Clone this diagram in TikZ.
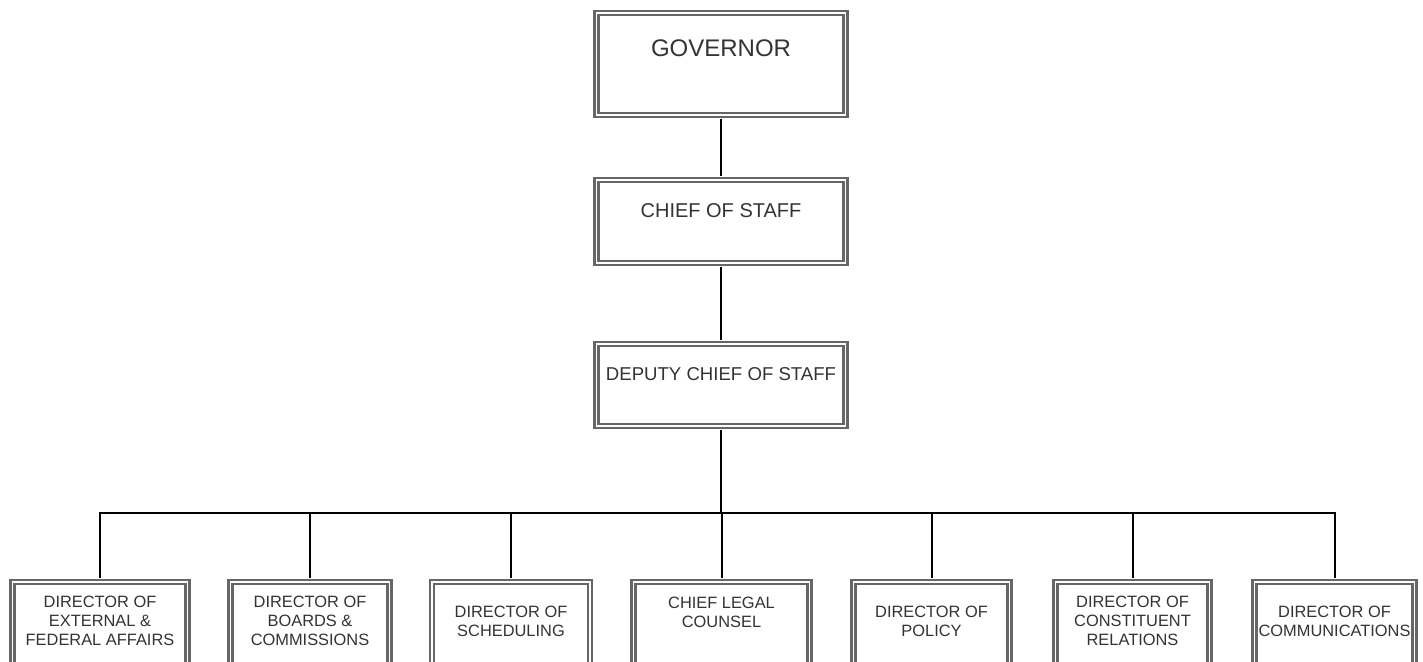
\documentclass[tikz,border=0pt]{standalone}
\usepackage{fontspec}
\setmainfont{Liberation Sans}

\begin{document}
\begin{tikzpicture}[x=0.5pt,y=-0.5pt,line width=1pt]
    \tikzstyle{box}=[rectangle,draw=black!60,double=white,double distance=0.9pt,line width=1.1pt,fill=white,inner sep=0pt]
    \tikzstyle{boxtext}=[anchor=north,inner sep=0pt,align=center,text=black!80]
    \useasboundingbox (0,0) rectangle (1423,661);
    \clip (0,0) rectangle (1423,661);

    % top column
    \foreach \name/\y/\h in {GOV/64/102, COS/221.5/83, DCOS/385/82}
        \node[box,minimum width=124.5pt,minimum height=\h*0.5pt] (\name) at (721,\y) {};

    \node[boxtext,font=\fontsize{12}{14}\selectfont] (GOV-t) at (721,39) {GOVERNOR};
    \node[boxtext,font=\fontsize{10}{12}\selectfont] (COS-t) at (721,203) {CHIEF OF STAFF};
    \node[boxtext,font=\fontsize{9.3}{11}\selectfont] (DCOS-t) at (721,366) {DEPUTY CHIEF OF STAFF};

    % directors row
    \foreach \num/\x/\w in {1/100/87.5, 2/310/79.5, 3/511/79, 4/721.5/88, 5/931.5/78, 6/1132.5/77, 7/1334.5/80}
        \node[box,anchor=north,minimum width=\w pt,minimum height=60pt] (D-\num) at (\x,581) {};

    \foreach \num/\x/\y/\txt in {1/100/595/{DIRECTOR OF\\EXTERNAL \&\\FEDERAL AFFAIRS},
                                 2/310/595/{DIRECTOR OF\\BOARDS \&\\COMMISSIONS},
                                 3/511/605/{DIRECTOR OF\\SCHEDULING},
                                 4/721.5/596/{CHIEF LEGAL\\COUNSEL},
                                 5/931.5/605/{DIRECTOR OF\\POLICY},
                                 6/1132.5/595/{DIRECTOR OF\\CONSTITUENT\\RELATIONS},
                                 7/1334.5/605/{DIRECTOR OF\\COMMUNICATIONS}}
        \node[boxtext,font=\fontsize{8.2}{9.6}\selectfont] (T-\num) at (\x,\y) {\txt};

    \coordinate (bus) at (721,513);

    \draw[shorten >=1.5pt,shorten <=1.5pt] (GOV) -- (COS);
    \draw[shorten >=1.5pt,shorten <=1.5pt] (COS) -- (DCOS);
    \draw[shorten <=1.5pt] (DCOS) -- (bus);
    \foreach \num in {1,...,7}
        \draw[shorten >=1.5pt] (bus) -| (D-\num.north);
\end{tikzpicture}
\end{document}
